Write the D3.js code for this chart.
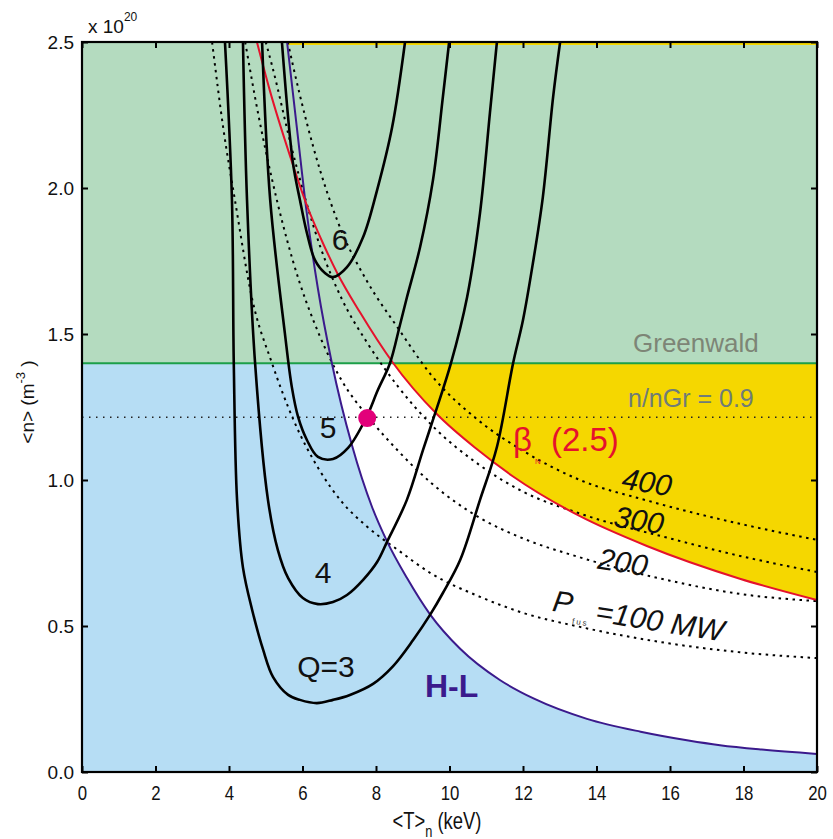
<!DOCTYPE html>
<html>
<head>
<meta charset="utf-8">
<script src="https://cdn.jsdelivr.net/npm/d3@7"></script>
<style>
  body { margin: 0; background: #fff; }
  svg { display: block; font-family: "Liberation Sans", Arial, sans-serif; }
</style>
</head>
<body>
<div id="chart"></div>
<script>
/* Axis ticks */
const xTicks = [0, 2, 4, 6, 8, 10, 12, 14, 16, 18, 20];
const yTicks = [0, 0.5, 1.0, 1.5, 2.0, 2.5];

/* Limits: Greenwald density and the 0.9 fraction line (x 1e20 m^-3) */
const greenwaldN = 1.4;
const nGr09 = 1.215;

/* Operating point [T keV, n] */
const operatingPoint = [7.76, 1.212];

/* Gain contours Q = 3..6, [T, n] */
const q3 = [[3.89,2.5],[4.08,1.96],[4.13,1.4],[4.22,0.93],[4.38,0.70],[4.63,0.555],[4.93,0.418],[5.2,0.325],
  [5.61,0.264],[5.93,0.247],[6.39,0.236],[6.83,0.247],[7.29,0.264],[7.92,0.302],[8.46,0.362],[9.01,0.452],
  [9.47,0.538],[9.82,0.613],[10.29,0.726],[10.83,0.932],[11.29,1.113],[11.73,1.40],[12.0,1.548],
  [12.27,1.743],[12.54,1.969],[12.82,2.312],[13.01,2.5]];
const q4 = [[4.38,2.5],[4.49,1.96],[4.71,1.4],[5.06,0.932],[5.33,0.76],[5.61,0.664],[6.01,0.596],[6.42,0.575],
  [6.83,0.582],[7.21,0.606],[7.65,0.658],[8.03,0.719],[8.30,0.788],[8.84,0.932],[9.28,1.103],[9.61,1.229],
  [10.04,1.40],[10.48,1.627],[10.83,1.914],[11.10,2.257],[11.29,2.5]];
const q5 = [[4.90,2.5],[5.12,1.96],[5.52,1.503],[5.71,1.318],[5.88,1.216],[6.12,1.137],[6.42,1.079],
  [6.83,1.072],[7.24,1.11],[7.73,1.212],[8.05,1.308],[8.38,1.40],[8.65,1.53],[8.84,1.625],[9.20,1.798],
  [9.55,2.027],[9.82,2.312],[9.99,2.5]];
const q6 = [[5.44,2.5],[5.74,2.086],[5.93,1.959],[6.12,1.846],[6.34,1.753],[6.61,1.709],[6.83,1.695],
  [7.21,1.729],[7.65,1.832],[8.03,1.993],[8.44,2.209],[8.79,2.5]];

/* Fusion power contours (MW) */
const pfus100 = [[3.54,2.5],[3.85,2.2],[4.16,1.96],[4.63,1.62],[5.17,1.40],[5.74,1.21],[6.48,1.03],[7.07,0.925],
  [7.76,0.84],[8.6,0.76],[9.5,0.68],[10.83,0.60],[12,0.545],[13.55,0.497],[16,0.44],[17.9,0.41],[20,0.39]];
const pfus200 = [[4.44,2.5],[4.8,2.25],[5.17,2.03],[5.74,1.75],[6.48,1.49],[7.07,1.34],[7.76,1.22],[8.6,1.10],
  [9.5,0.99],[10.83,0.87],[12,0.80],[13.55,0.735],[16,0.655],[17.9,0.61],[20,0.585]];
const pfus300 = [[5.0,2.5],[5.17,2.42],[5.74,2.12],[6.48,1.80],[7.07,1.62],[7.76,1.47],[8.6,1.32],[9.5,1.19],
  [10.83,1.05],[12,0.96],[13.55,0.885],[16,0.80],[17.9,0.74],[20,0.685]];
const pfus400 = [[5.6,2.5],[5.74,2.42],[6.48,2.06],[7.07,1.85],[7.76,1.68],[8.6,1.52],[9.5,1.36],[10.83,1.20],
  [12,1.10],[13.55,1.0],[15.37,0.93],[17.9,0.85],[20,0.795]];

/* H-L back-transition threshold and beta_N = 2.5 limit */
const hlThreshold = [[5.58,2.5],[5.88,2.17],[6.10,1.93],[6.42,1.655],[6.80,1.40],[7.35,1.117],[7.9,0.905],
  [8.30,0.79],[8.84,0.665],[9.47,0.54],[10.29,0.422],[11.37,0.315],[12.3,0.251],[13.74,0.182],
  [15.2,0.138],[16.5,0.108],[17.36,0.092],[18.5,0.077],[20,0.062]];
const betaLimit = [[4.76,2.5],[5.12,2.33],[5.66,2.11],[6.12,1.94],[6.56,1.81],[6.94,1.71],[7.56,1.575],
  [8.44,1.405],[9.66,1.225],[10.75,1.105],[11.73,1.012],[13.55,0.876],[15.37,0.774],[17.9,0.662],[20,0.589]];

const width = 833, height = 839;

const svg = d3.select("#chart").append("svg")
  .attr("width", width).attr("height", height);

const x = d3.scaleLinear().domain([0, 20]).range([82, 817]);
const y = d3.scaleLinear().domain([0, 2.5]).range([772, 42]);

// U-shaped Q contours need a parametric curve, the rest are functions of T
const loop = d3.line()
  .x(d => x(d[0]))
  .y(d => y(d[1]))
  .curve(d3.curveCatmullRom.alpha(0.5));
const line = d3.line()
  .x(d => x(d[0]))
  .y(d => y(d[1]))
  .curve(d3.curveMonotoneX);

const defs = svg.append("defs");
defs.append("clipPath").attr("id", "plotClip").append("rect")
  .attr("x", x(0)).attr("y", y(2.5)).attr("width", x(20) - x(0)).attr("height", y(0) - y(2.5));
defs.append("clipPath").attr("id", "belowGw").append("rect")
  .attr("x", x(0)).attr("y", y(greenwaldN)).attr("width", x(20) - x(0)).attr("height", y(0) - y(greenwaldN));

const plot = svg.append("g").attr("clip-path", "url(#plotClip)");

// regions: blue (L-mode side), white, yellow (beta-limited), green (above Greenwald)
plot.append("rect")
  .attr("x", x(0)).attr("y", y(greenwaldN))
  .attr("width", x(20) - x(0)).attr("height", y(0) - y(greenwaldN))
  .attr("fill", "#b6ddf4");

const below = plot.append("g").attr("clip-path", "url(#belowGw)");
below.append("path")
  .attr("d", line(hlThreshold) + `L${x(20)},${y(2.5)}Z`)
  .attr("fill", "#ffffff");
below.append("path")
  .attr("d", line(betaLimit) + `L${x(20)},${y(2.5)}Z`)
  .attr("fill", "#f5d700");

plot.append("rect")
  .attr("x", x(0)).attr("y", y(2.5))
  .attr("width", x(20) - x(0)).attr("height", y(greenwaldN) - y(2.5))
  .attr("fill", "#b4dbbf");

// thin yellow strip along the top edge
plot.append("line")
  .attr("x1", x(hlThreshold[0][0])).attr("x2", x(20))
  .attr("y1", y(2.5) + 2).attr("y2", y(2.5) + 2)
  .attr("stroke", "#f5d700").attr("stroke-width", 2);

// Greenwald line and 0.9 fraction
plot.append("line")
  .attr("x1", x(0)).attr("x2", x(20))
  .attr("y1", y(greenwaldN)).attr("y2", y(greenwaldN))
  .attr("stroke", "#1c9f48").attr("stroke-width", 2);
plot.append("line")
  .attr("x1", x(0)).attr("x2", x(20))
  .attr("y1", y(nGr09)).attr("y2", y(nGr09))
  .attr("stroke", "#222").attr("stroke-width", 1.6)
  .attr("stroke-dasharray", "1.5,5.5");

// fusion power contours
plot.selectAll("path.pfus")
  .data([pfus100, pfus200, pfus300, pfus400])
  .join("path")
    .attr("class", "pfus")
    .attr("d", d => line(d))
    .attr("fill", "none")
    .attr("stroke", "#000")
    .attr("stroke-width", 2)
    .attr("stroke-dasharray", "2.5,4.5");

// H-L and beta limit
plot.append("path").attr("d", line(hlThreshold))
  .attr("fill", "none").attr("stroke", "#3b1a8c").attr("stroke-width", 2);
plot.append("path").attr("d", line(betaLimit))
  .attr("fill", "none").attr("stroke", "#e5122c").attr("stroke-width", 2);

// Q contours
plot.selectAll("path.q")
  .data([q3, q4, q5, q6])
  .join("path")
    .attr("class", "q")
    .attr("d", d => loop(d))
    .attr("fill", "none")
    .attr("stroke", "#000")
    .attr("stroke-width", 2.6)
    .attr("stroke-linejoin", "round");

// operating point
plot.append("circle")
  .attr("cx", x(operatingPoint[0])).attr("cy", y(operatingPoint[1]))
  .attr("r", 9).attr("fill", "#e2007a");

/* Annotations */
const ann = svg.append("g");
const qLabels = [
  {t: "6", x: 340, y: 250}, {t: "5", x: 328, y: 438},
  {t: "4", x: 323, y: 583}, {t: "Q=3", x: 326, y: 677}
];
ann.selectAll("text.ql").data(qLabels).join("text")
  .attr("class", "ql")
  .attr("x", d => d.x).attr("y", d => d.y)
  .attr("text-anchor", "middle")
  .style("font-size", "30px").style("fill", "#111")
  .text(d => d.t);

ann.append("text").attr("x", 425).attr("y", 697)
  .style("font-size", "32px").style("font-weight", "bold").style("fill", "#3b1a8c")
  .text("H-L");

ann.append("text").attr("x", 633).attr("y", 352)
  .style("font-size", "26px").style("fill", "#7d8576")
  .text("Greenwald");
ann.append("text").attr("x", 628).attr("y", 407)
  .style("font-size", "25px").style("fill", "#6f7c78")
  .text("n/nGr = 0.9");

ann.append("text").attr("x", 513).attr("y", 451)
  .style("font-size", "33px").style("fill", "#e5122c")
  .text("β");
ann.append("text").attr("x", 535).attr("y", 464)
  .style("font-size", "8px").style("fill", "#e5122c")
  .text("N");
ann.append("text").attr("x", 551).attr("y", 451)
  .style("font-size", "33px").style("fill", "#e5122c")
  .text("(2.5)");

const pLabels = [
  {t: "400", x: 647, y: 482}, {t: "300", x: 639, y: 520},
  {t: "200", x: 623, y: 562}, {t: "P", x: 563, y: 602},
  {t: "=100 MW", x: 660, y: 621}
];
ann.selectAll("text.pl").data(pLabels).join("text")
  .attr("class", "pl")
  .attr("transform", d => `translate(${d.x},${d.y}) rotate(9)`)
  .attr("text-anchor", "middle").attr("dy", "0.35em")
  .style("font-size", "30px").style("font-style", "italic").style("fill", "#111")
  .text(d => d.t);
ann.append("text")
  .attr("transform", "translate(580,625) rotate(9)")
  .attr("text-anchor", "middle")
  .style("font-size", "8px").style("letter-spacing", "2px").style("fill", "#333")
  .text("fus");

/* Axes with inward ticks on all four sides */
const styleAxis = g => {
  g.select(".domain").remove();
  g.selectAll(".tick line").attr("stroke", "#000").attr("stroke-width", 2);
};

svg.append("g")
  .attr("transform", `translate(0,${y(0)})`)
  .call(d3.axisBottom(x).tickValues(xTicks).tickSize(-6).tickPadding(13).tickFormat(d3.format("d")))
  .call(styleAxis)
  .call(g => g.selectAll("text")
    .attr("transform", "scale(0.8,1)")
    .style("font-family", "'Liberation Sans', Arial, sans-serif")
    .style("font-size", "21px").style("fill", "#111"));

svg.append("g")
  .attr("transform", `translate(0,${y(2.5)})`)
  .call(d3.axisTop(x).tickValues(xTicks).tickSize(-6).tickFormat(""))
  .call(styleAxis);

svg.append("g")
  .attr("transform", `translate(${x(0)},0)`)
  .call(d3.axisLeft(y).tickValues(yTicks).tickSize(-6).tickPadding(8).tickFormat(d3.format(".1f")))
  .call(styleAxis)
  .call(g => g.selectAll("text")
    .style("font-family", "'Liberation Sans', Arial, sans-serif")
    .style("font-size", "19px").style("fill", "#111"));

svg.append("g")
  .attr("transform", `translate(${x(20)},0)`)
  .call(d3.axisRight(y).tickValues(yTicks).tickSize(-6).tickFormat(""))
  .call(styleAxis);

// frame
svg.append("rect")
  .attr("x", x(0)).attr("y", y(2.5))
  .attr("width", x(20) - x(0)).attr("height", y(0) - y(2.5))
  .attr("fill", "none").attr("stroke", "#000").attr("stroke-width", 2.2);

// multiplier
const mult = svg.append("text").attr("x", 88).attr("y", 33)
  .style("font-size", "19px").style("fill", "#111");
mult.append("tspan").text("x 10");
mult.append("tspan").attr("dy", -12).style("font-size", "12px").text("20");

// y-axis title
const yTitle = svg.append("text")
  .attr("transform", "translate(34,402) rotate(-90)")
  .attr("text-anchor", "middle")
  .style("font-size", "19px").style("fill", "#111");
yTitle.append("tspan").text("<n> (m");
yTitle.append("tspan").attr("dy", -9).style("font-size", "13px").text("-3");
yTitle.append("tspan").attr("dy", 9).text(" )");

// x-axis title (condensed like the tick labels)
const xTitle = svg.append("text")
  .attr("transform", "translate(437,829) scale(0.8,1)")
  .attr("text-anchor", "middle")
  .style("font-size", "23px").style("fill", "#111");
xTitle.append("tspan").text("<T>");
xTitle.append("tspan").attr("dy", 8).style("font-size", "16px").text("n");
xTitle.append("tspan").attr("dy", -8).text(" (keV)");
</script>
</body>
</html>
